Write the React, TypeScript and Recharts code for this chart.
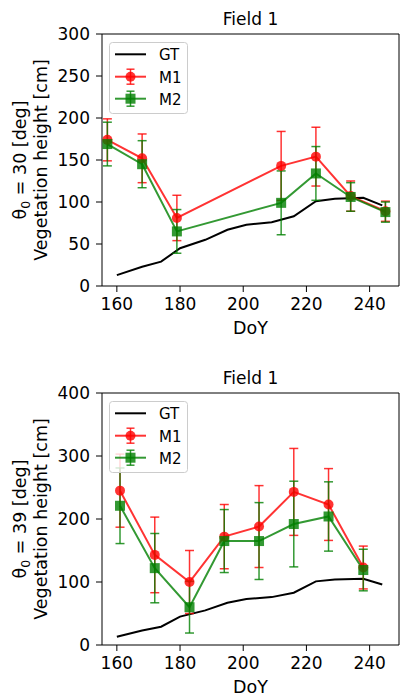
import { ComposedChart, Line, XAxis, YAxis, ErrorBar, Legend } from "recharts";

const FONT = "'DejaVu Sans', sans-serif";
const RED = "#ff0000";
const GREEN = "#008000";
const ALPHA = 0.8;

// ground truth, same in both panels
const gtDoy = [160, 168, 174, 180, 188, 195, 201, 209, 216, 223, 229, 238, 244];
const gtHeight = [13, 23, 29, 45, 55, 67, 73, 76, 83, 101, 104, 105, 96];

// theta0 = 30 deg
const doy30 = [157, 168, 179, 212, 223, 234, 245];
const m1Height30 = [174, 152, 81, 143, 154, 107, 89];
const m1Err30 = [25, 29, 27, 41, 35, 18, 12];
const m2Height30 = [169, 145, 65, 99, 134, 106, 88];
const m2Err30 = [26, 28, 26, 38, 32, 17, 12];

// theta0 = 39 deg
const doy39 = [161, 172, 183, 194, 205, 216, 227, 238];
const m1Height39 = [245, 143, 100, 172, 188, 243, 223, 123];
const m1Err39 = [58, 60, 50, 51, 65, 69, 57, 34];
const m2Height39 = [221, 122, 60, 165, 165, 192, 204, 119];
const m2Err39 = [60, 55, 41, 50, 61, 68, 55, 33];

const doyTicks = [160, 180, 200, 220, 240];
const yTicks30 = [0, 50, 100, 150, 200, 250, 300];
const yTicks39 = [0, 100, 200, 300, 400];
const xDomain = [155.3, 249.3];

const toPoints = (xs: number[], ys: number[], errs?: number[]) =>
  xs.map((x, i) => ({ x, y: ys[i], e: errs ? errs[i] : 0 }));

const circleDot = (props: any) => (
  <circle key={`c-${props.index}`} cx={props.cx} cy={props.cy} r={5} fill={RED} fillOpacity={ALPHA} stroke="none" />
);

const squareDot = (props: any) => (
  <rect key={`s-${props.index}`} x={props.cx - 5} y={props.cy - 5} width={10} height={10} fill={GREEN} fillOpacity={ALPHA} stroke="none" />
);

function LegendBox() {
  const row = (y: number, color: string, square: boolean) => (
    <g>
      <line x1={6} x2={37} y1={y} y2={y} stroke={color} strokeOpacity={ALPHA} strokeWidth={2} />
      <line x1={21.5} x2={21.5} y1={y - 7.5} y2={y + 7.5} stroke={color} strokeOpacity={ALPHA} strokeWidth={1.5} />
      <line x1={17.5} x2={25.5} y1={y - 7.5} y2={y - 7.5} stroke={color} strokeOpacity={ALPHA} strokeWidth={1.5} />
      <line x1={17.5} x2={25.5} y1={y + 7.5} y2={y + 7.5} stroke={color} strokeOpacity={ALPHA} strokeWidth={1.5} />
      {square ? (
        <rect x={16.5} y={y - 5} width={10} height={10} fill={color} fillOpacity={ALPHA} />
      ) : (
        <circle cx={21.5} cy={y} r={5} fill={color} fillOpacity={ALPHA} />
      )}
    </g>
  );
  return (
    <svg width={79} height={72} style={{ display: "block" }}>
      <rect x={0.5} y={0.5} width={78} height={71} rx={3} fill="#fff" fillOpacity={0.8} stroke="#cccccc" />
      <line x1={6} x2={37} y1={12.3} y2={12.3} stroke="#000" strokeWidth={2} />
      <text x={50} y={18} fontSize={15} fontFamily={FONT} fill="#000">GT</text>
      {row(34.7, RED, false)}
      <text x={50} y={40.5} fontSize={15} fontFamily={FONT} fill="#000">M1</text>
      {row(56.7, GREEN, true)}
      <text x={50} y={62.5} fontSize={15} fontFamily={FONT} fill="#000">M2</text>
    </svg>
  );
}

interface PanelProps {
  theta: number;
  doy: number[];
  m1: number[];
  m1Err: number[];
  m2: number[];
  m2Err: number[];
  yMax: number;
  yTicks: number[];
  top: number;
  height: number;
  marginTop: number;
}

function Panel({ theta, doy, m1, m1Err, m2, m2Err, yMax, yTicks, top, height, marginTop }: PanelProps) {
  const plotH = 252;
  const xAxisH = height - marginTop - plotH;
  const plotBottom = marginTop + plotH;
  const midY = marginTop + plotH / 2;
  const tick = { fill: "#000", fontSize: 17, fontFamily: FONT };

  const gtData = toPoints(gtDoy, gtHeight);
  const m1Data = toPoints(doy, m1, m1Err);
  const m2Data = toPoints(doy, m2, m2Err);

  return (
    <div style={{ position: "absolute", left: 0, top, width: 400, height }}>
      <ComposedChart width={400} height={height} margin={{ top: marginTop - 1, right: 0, bottom: 0, left: 0 }}>
        <XAxis
          xAxisId={0}
          dataKey="x"
          type="number"
          domain={xDomain}
          ticks={doyTicks}
          allowDataOverflow
          height={xAxisH}
          tick={tick}
          tickSize={6}
          tickMargin={6}
          stroke="#000"
          label={{
            content: () => (
              <text x={250.5} y={plotBottom + 48} textAnchor="middle" fontSize={17.5} fontFamily={FONT} fill="#000">
                DoY
              </text>
            ),
          }}
        />
        <XAxis
          xAxisId="top"
          orientation="top"
          dataKey="x"
          type="number"
          domain={xDomain}
          allowDataOverflow
          height={1}
          tick={false}
          tickLine={false}
          stroke="#000"
          label={{
            content: () => (
              <text x={250.5} y={marginTop - 9} textAnchor="middle" fontSize={17} fontFamily={FONT} fill="#000">
                Field 1
              </text>
            ),
          }}
        />
        <YAxis
          yAxisId={0}
          type="number"
          domain={[0, yMax]}
          ticks={yTicks}
          width={102}
          tick={tick}
          tickSize={6}
          tickMargin={6}
          stroke="#000"
          label={{
            content: () => (
              <g fontSize={17.5} fontFamily={FONT} fill="#000">
                <text transform={`translate(26, ${midY}) rotate(-90)`} textAnchor="middle">
                  θ<tspan fontSize={12.5} dy={4}>0</tspan>
                  <tspan dy={-4}> = {theta} [deg]</tspan>
                </text>
                <text transform={`translate(46.5, ${midY}) rotate(-90)`} textAnchor="middle">
                  Vegetation height [cm]
                </text>
              </g>
            ),
          }}
        />
        <YAxis
          yAxisId="right"
          orientation="right"
          type="number"
          domain={[0, yMax]}
          width={1}
          tick={false}
          tickLine={false}
          stroke="#000"
        />
        <Legend
          layout="vertical"
          align="center"
          verticalAlign="middle"
          wrapperStyle={{ left: 109, top: marginTop + 8, width: 79, height: 72 }}
          content={() => <LegendBox />}
        />
        <Line data={gtData} dataKey="y" name="GT" stroke="#000" strokeWidth={2} dot={false} isAnimationActive={false} />
        <Line
          data={m1Data}
          dataKey="y"
          name="M1"
          stroke={RED}
          strokeOpacity={ALPHA}
          strokeWidth={2}
          dot={circleDot}
          isAnimationActive={false}
        >
          <ErrorBar dataKey="e" direction="y" width={4.5} stroke={RED} strokeOpacity={ALPHA} strokeWidth={1.5} />
        </Line>
        <Line
          data={m2Data}
          dataKey="y"
          name="M2"
          stroke={GREEN}
          strokeOpacity={ALPHA}
          strokeWidth={2}
          dot={squareDot}
          isAnimationActive={false}
        >
          <ErrorBar dataKey="e" direction="y" width={4.5} stroke={GREEN} strokeOpacity={ALPHA} strokeWidth={1.5} />
        </Line>
      </ComposedChart>
    </div>
  );
}

export default function App() {
  return (
    <div style={{ position: "absolute", left: 0, top: 0, width: 400, height: 696, background: "#fff" }}>
      <Panel
        theta={30}
        doy={doy30}
        m1={m1Height30}
        m1Err={m1Err30}
        m2={m2Height30}
        m2Err={m2Err30}
        yMax={300}
        yTicks={yTicks30}
        top={0}
        height={348}
        marginTop={34}
      />
      <Panel
        theta={39}
        doy={doy39}
        m1={m1Height39}
        m1Err={m1Err39}
        m2={m2Height39}
        m2Err={m2Err39}
        yMax={400}
        yTicks={yTicks39}
        top={348}
        height={348}
        marginTop={45}
      />
    </div>
  );
}
